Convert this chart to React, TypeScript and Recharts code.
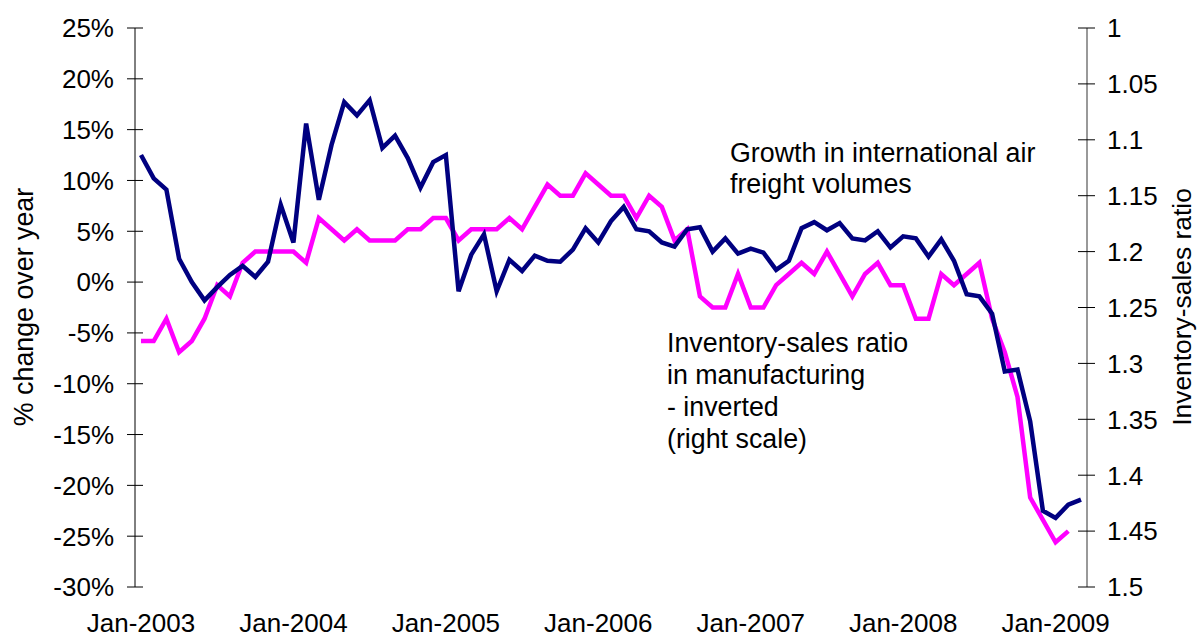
import { LineChart, Line, XAxis, YAxis } from "recharts";

const W = 1198;
const H = 638;
const LEFT_W = 135;
const RIGHT_W = 111;
const FONT = "'Liberation Sans', Arial, sans-serif";
const FS = 26;
const NOTE_FS = 26.8;

const MONTH_NAMES = ["Jan", "Feb", "Mar", "Apr", "May", "Jun", "Jul", "Aug", "Sep", "Oct", "Nov", "Dec"];

// Jan-2003 .. Mar-2009
const months = Array.from(
  { length: 75 },
  (_, i) => `${MONTH_NAMES[i % 12]}-${2003 + Math.floor(i / 12)}`
);

// growth in international air freight volumes, % change over year
const airFreight = [
  12.5, 10.2, 9.1, 2.3, 0.0, -1.8, -0.5, 0.7, 1.6, 0.5, 2.0, 7.6,
  3.9, 15.6, 8.1, 13.5, 17.7, 16.4, 17.9, 13.2, 14.4, 12.2, 9.3, 11.8,
  12.5, -0.9, 2.7, 4.7, -0.9, 2.2, 1.1, 2.6, 2.1, 2.0, 3.2, 5.3,
  3.9, 6.0, 7.4, 5.2, 5.0, 3.9, 3.5, 5.2, 5.4, 3.0, 4.3, 2.8,
  3.3, 2.9, 1.2, 2.1, 5.3, 5.9, 5.1, 5.8, 4.3, 4.1, 5.0, 3.4,
  4.5, 4.3, 2.5, 4.2, 2.1, -1.2, -1.4, -3.1, -8.8, -8.6, -13.7, -22.5,
  -23.2, -21.9, -21.4,
];

// inventory-sales ratio in manufacturing (plotted on inverted right scale)
const invSales = [
  1.28, 1.28, 1.26, 1.29, 1.28, 1.26, 1.23, 1.24, 1.21, 1.2, 1.2, 1.2,
  1.2, 1.21, 1.17, 1.18, 1.19, 1.18, 1.19, 1.19, 1.19, 1.18, 1.18, 1.17,
  1.17, 1.19, 1.18, 1.18, 1.18, 1.17, 1.18, 1.16, 1.14, 1.15, 1.15, 1.13,
  1.14, 1.15, 1.15, 1.17, 1.15, 1.16, 1.19, 1.18, 1.24, 1.25, 1.25, 1.22,
  1.25, 1.25, 1.23, 1.22, 1.21, 1.22, 1.2, 1.22, 1.24, 1.22, 1.21, 1.23,
  1.23, 1.26, 1.26, 1.22, 1.23, 1.22, 1.21, 1.26, 1.29, 1.33, 1.42, 1.44,
  1.46, 1.45,
];

const leftTicks = [-30, -25, -20, -15, -10, -5, 0, 5, 10, 15, 20, 25];
const rightTicks = [1, 1.05, 1.1, 1.15, 1.2, 1.25, 1.3, 1.35, 1.4, 1.45, 1.5];

const data = months.map((m, i) => ({
  month: m,
  growth: airFreight[i],
  ratio: i < invSales.length ? invSales[i] : null,
}));

const LEFT_X = LEFT_W;
const RIGHT_X = W - RIGHT_W;

function LeftTick({ y, payload }: any) {
  return (
    <g>
      <line x1={LEFT_X - 8} x2={LEFT_X + 8} y1={y} y2={y} stroke="#000" strokeWidth={1} />
      <text x={LEFT_X - 21} y={y} dy="0.36em" textAnchor="end" fontSize={FS} fontFamily={FONT} fill="#000">
        {`${payload.value}%`}
      </text>
    </g>
  );
}

function RightTick({ y, payload }: any) {
  return (
    <g>
      <line x1={RIGHT_X - 9} x2={RIGHT_X + 8} y1={y} y2={y} stroke="#000" strokeWidth={1} />
      <text x={RIGHT_X + 20} y={y} dy="0.36em" textAnchor="start" fontSize={FS} fontFamily={FONT} fill="#000">
        {String(Number(payload.value.toFixed(2)))}
      </text>
    </g>
  );
}

function BottomTick({ x, y, payload }: any) {
  return (
    <text x={x} y={y + 45} textAnchor="middle" fontSize={FS} fontFamily={FONT} fill="#000">
      {payload.value}
    </text>
  );
}

export default function App() {
  return (
    <div style={{ position: "absolute", left: 0, top: 0, width: W, height: H, background: "#fff" }}>
      <LineChart
        width={W}
        height={H}
        data={data}
        margin={{ top: 28, right: 0, bottom: 0, left: 0 }}
      >
        <XAxis
          dataKey="month"
          interval={11}
          axisLine={false}
          tickLine={false}
          tickSize={0}
          tickMargin={0}
          height={51}
          padding={{ left: 6, right: 6 }}
          tick={<BottomTick />}
        />
        <YAxis
          yAxisId="left"
          orientation="left"
          width={LEFT_W}
          domain={[-30, 25]}
          ticks={leftTicks}
          interval={0}
          axisLine={{ stroke: "#000", strokeWidth: 1 }}
          tickLine={false}
          tick={<LeftTick />}
        />
        <YAxis
          yAxisId="right"
          orientation="right"
          width={RIGHT_W}
          domain={[1, 1.5]}
          reversed
          ticks={rightTicks}
          interval={0}
          axisLine={{ stroke: "#777", strokeWidth: 1.5 }}
          tickLine={false}
          tick={<RightTick />}
        />
        <Line
          yAxisId="right"
          type="linear"
          dataKey="ratio"
          stroke="#FF00FF"
          strokeWidth={4.5}
          dot={false}
          isAnimationActive={false}
        />
        <Line
          yAxisId="left"
          type="linear"
          dataKey="growth"
          stroke="#000080"
          strokeWidth={4.5}
          dot={false}
          isAnimationActive={false}
        />
      </LineChart>
      <svg
        width={W}
        height={H}
        style={{ position: "absolute", left: 0, top: 0, pointerEvents: "none" }}
        fontFamily={FONT}
        fontSize={NOTE_FS}
        fill="#000"
      >
        <text transform="translate(23,307) rotate(-90)" textAnchor="middle" dy="0.36em">
          % change over year
        </text>
        <text transform="translate(1181,307) rotate(-90)" textAnchor="middle" dy="0.36em" fontSize={26.4}>
          Inventory-sales ratio
        </text>
        <text x={730} y={162}>Growth in international air</text>
        <text x={730} y={193}>freight volumes</text>
        <text x={667} y={352}>Inventory-sales ratio</text>
        <text x={667} y={384}>in manufacturing</text>
        <text x={667} y={416}>- inverted</text>
        <text x={667} y={448}>(right scale)</text>
      </svg>
    </div>
  );
}
